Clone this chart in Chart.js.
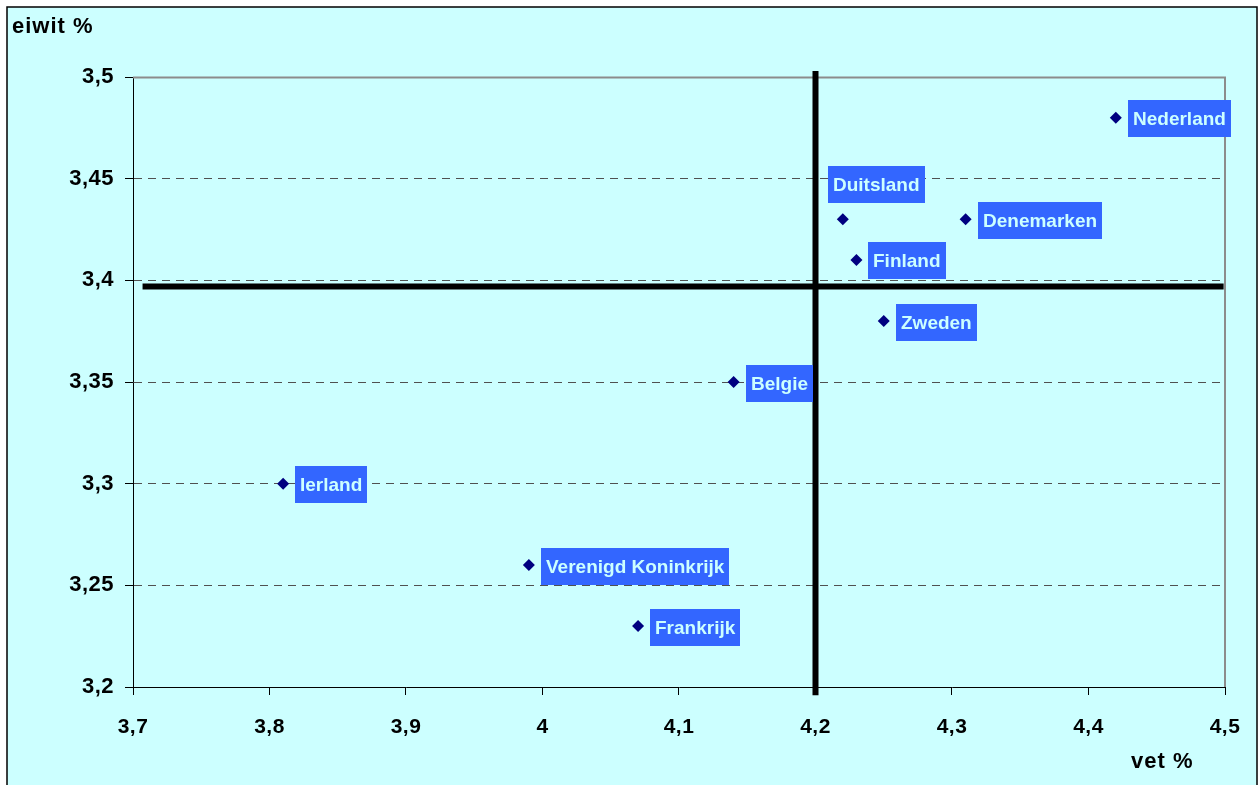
<!DOCTYPE html>
<html>
<head>
<meta charset="utf-8">
<title>vet % / eiwit %</title>
<script src="https://cdn.jsdelivr.net/npm/chart.js@4/dist/chart.umd.min.js"></script>
<style>
  html, body { margin: 0; padding: 0; background: #fff; overflow: hidden; }
  canvas { display: block; }
</style>
</head>
<body>
<canvas id="chart" width="1260" height="785"></canvas>
<script>
const COUNTRIES = ['Nederland', 'Duitsland', 'Denemarken', 'Finland', 'Zweden', 'Belgie', 'Ierland', 'Verenigd Koninkrijk', 'Frankrijk'];
const FAT = [4.42, 4.22, 4.31, 4.23, 4.25, 4.14, 3.81, 3.99, 4.07];
const PROTEIN = [3.48, 3.43, 3.43, 3.41, 3.38, 3.35, 3.30, 3.26, 3.23];
const X_TICKS = [3.7, 3.8, 3.9, 4.0, 4.1, 4.2, 4.3, 4.4, 4.5];
const Y_TICKS = [3.2, 3.25, 3.3, 3.35, 3.4, 3.45, 3.5];
const FAT_AVG = 4.2;
const PROTEIN_AVG = 3.397;
const CROSS_X = [3.707, 4.499];
const CROSS_Y = [3.196, 3.503];
const X_TITLE = 'vet %';
const Y_TITLE = 'eiwit %';

(() => {
  'use strict';
  const FONT = "'Liberation Sans', Arial, sans-serif";
  const CYAN = '#ccffff';
  const comma = v => String(Number(v.toFixed(2))).replace('.', ',');
  const near = (a, b) => Math.abs(a - b) < 1e-6;

  const frame = {
    id: 'frame',
    beforeDraw(chart) {
      const { ctx, width, height } = chart;
      ctx.save();
      ctx.fillStyle = '#fff';
      ctx.fillRect(0, 0, width, height);
      ctx.fillStyle = CYAN;
      ctx.fillRect(7, 7, 1250, height);
      ctx.strokeStyle = '#000';
      ctx.lineWidth = 1.5;
      ctx.strokeRect(7, 7, 1250, height + 10);
      ctx.restore();
      // tick text in the original runs a bit wide
      ctx.letterSpacing = '0.5px';
    },
    beforeDatasetsDraw(chart) {
      const { ctx, chartArea: a } = chart;
      ctx.save();
      ctx.strokeStyle = '#8c8c8c';
      ctx.lineWidth = 2;
      ctx.beginPath();
      ctx.moveTo(a.left, a.top + 0.5);
      ctx.lineTo(a.right, a.top + 0.5);
      ctx.lineTo(a.right, a.bottom);
      ctx.stroke();
      ctx.restore();
    },
    afterDraw(chart) {
      const { ctx } = chart;
      ctx.save();
      ctx.letterSpacing = '1px';
      ctx.fillStyle = '#000';
      ctx.font = `bold 22px ${FONT}`;
      ctx.textBaseline = 'middle';
      ctx.fillText(Y_TITLE, 12, 27);
      ctx.fillText(X_TITLE, 1131, 762);
      ctx.restore();
      ctx.letterSpacing = '0px';
    }
  };

  const labels = {
    id: 'countryLabels',
    afterDatasetsDraw(chart) {
      const { ctx } = chart;
      const meta = chart.getDatasetMeta(0);
      ctx.save();
      ctx.letterSpacing = '0px';
      ctx.font = `bold 19px ${FONT}`;
      ctx.textBaseline = 'middle';
      meta.data.forEach((pt, i) => {
        const text = COUNTRIES[i];
        const w = ctx.measureText(text).width + 10, h = 37;
        let bx = pt.x + 12, by = pt.y + 1 - h / 2;
        if (text === 'Duitsland') { bx = pt.x - 15; by = pt.y - 16 - h; }
        ctx.fillStyle = '#3366ff';
        ctx.fillRect(Math.round(bx), Math.round(by), Math.round(w), h);
        ctx.fillStyle = CYAN;
        ctx.fillText(text, Math.round(bx) + 5, Math.round(by) + h / 2 + 1);
      });
      ctx.restore();
    }
  };

  const thick = { type: 'line', showLine: true, borderColor: '#000', borderWidth: 6, pointRadius: 0, clip: false, borderCapStyle: 'butt' };

  new Chart(document.getElementById('chart'), {
    type: 'scatter',
    data: {
      datasets: [
        { label: 'landen', data: FAT.map((x, i) => ({ x, y: PROTEIN[i] })), pointStyle: 'rectRot', pointRadius: 6, pointHoverRadius: 6,
          backgroundColor: '#000080', borderColor: '#000080', borderWidth: 0, order: 1 },
        { ...thick, label: 'vet gem.', data: CROSS_Y.map(y => ({ x: FAT_AVG, y })), order: 2 },
        { ...thick, label: 'eiwit gem.', data: CROSS_X.map(x => ({ x, y: PROTEIN_AVG })), order: 2 }
      ]
    },
    options: {
      responsive: false, devicePixelRatio: 1, animation: false,
      layout: { padding: { top: 77, right: 35, left: 0, bottom: 0 } },
      plugins: { legend: { display: false }, tooltip: { enabled: false } },
      scales: {
        x: {
          type: 'linear', min: X_TICKS[0], max: X_TICKS.at(-1),
          afterBuildTicks: s => { s.ticks = X_TICKS.map(value => ({ value })); },
          afterFit: s => { s.height = 98; },
          grid: { drawOnChartArea: false, drawTicks: true, tickLength: 8, tickColor: '#000' },
          border: { color: '#000', width: 1 },
          ticks: { color: '#000', padding: 20, maxRotation: 0, font: { family: FONT, size: 21, weight: 'bold' }, callback: v => comma(v) }
        },
        y: {
          type: 'linear', min: Y_TICKS[0], max: Y_TICKS.at(-1),
          afterBuildTicks: s => { s.ticks = Y_TICKS.map(value => ({ value })); },
          afterFit: s => { s.width = 133; },
          grid: {
            color: c => (near(c.tick.value, 3.5) || near(c.tick.value, 3.2)) ? 'rgba(0,0,0,0)' : '#505050',
            lineWidth: 1, tickLength: 8, tickColor: '#000'
          },
          border: { color: '#000', width: 1, dash: [8, 6] },
          ticks: { color: '#000', padding: 11, font: { family: FONT, size: 22, weight: 'bold' }, callback: v => comma(v) }
        }
      }
    },
    plugins: [frame, labels]
  });
})();
</script>
</body>
</html>
